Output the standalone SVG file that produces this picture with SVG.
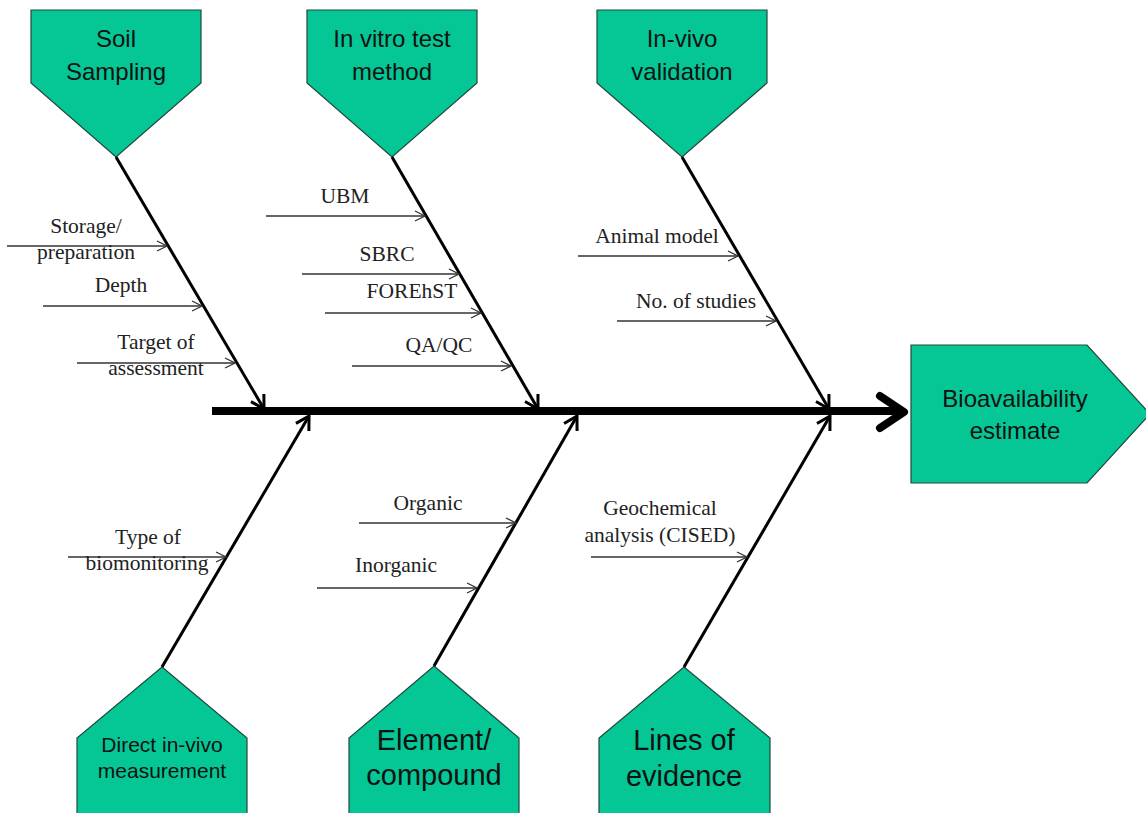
<svg xmlns="http://www.w3.org/2000/svg" width="1146" height="813" viewBox="0 0 1146 813">
<defs>
<style>
.node{fill:#04C795;stroke:#23483d;stroke-width:1.2}
.nt{font-family:"Liberation Sans",Arial,sans-serif;fill:#111;text-anchor:middle}
.lb{font-family:"Liberation Serif","Times New Roman",serif;font-size:21.5px;fill:#222;text-anchor:middle}
.bone{stroke:#000;stroke-width:3;fill:none;marker-end:url(#bh)}
.sub{stroke:#333;stroke-width:1.4;fill:none;marker-end:url(#sh)}
</style>
<marker id="bh" viewBox="-16 -10 18 20" refX="0" refY="0" markerWidth="18" markerHeight="20" markerUnits="userSpaceOnUse" orient="auto">
<path d="M-13,-7.5 L0,0 L-13,7.5" fill="none" stroke="#000" stroke-width="3"/>
</marker>
<marker id="sh" viewBox="-12 -7 14 14" refX="0" refY="0" markerWidth="14" markerHeight="14" markerUnits="userSpaceOnUse" orient="auto">
<path d="M-10,-5 L0,0 L-10,5" fill="none" stroke="#333" stroke-width="1.3"/>
</marker>
</defs>
<rect width="1146" height="813" fill="#fff"/>

<g id="n-soil">
<polygon class="node" points="31,10 201,10 201,83 116,157 31,83"/>
<text class="nt" font-size="24" x="116" y="47">Soil</text>
<text class="nt" font-size="24" x="116" y="80">Sampling</text>
</g>
<g id="n-invitro">
<polygon class="node" points="307,10 477,10 477,83 392,157 307,83"/>
<text class="nt" font-size="24" x="392" y="47">In vitro test</text>
<text class="nt" font-size="24" x="392" y="80">method</text>
</g>
<g id="n-invivo">
<polygon class="node" points="597,10 767,10 767,83 682,157 597,83"/>
<text class="nt" font-size="24" x="682" y="47">In-vivo</text>
<text class="nt" font-size="24" x="682" y="80">validation</text>
</g>
<g id="n-bio">
<polygon class="node" points="911,345 1087,345 1150,414 1087,483 911,483"/>
<text class="nt" font-size="24" x="1015" y="407">Bioavailability</text>
<text class="nt" font-size="24" x="1015" y="439">estimate</text>
</g>
<g id="n-direct">
<polygon class="node" points="162,667 247,738 247,820 77,820 77,738"/>
<text class="nt" font-size="21" x="162" y="752">Direct in-vivo</text>
<text class="nt" font-size="21" x="162" y="778">measurement</text>
</g>
<g id="n-element">
<polygon class="node" points="434,666 519,738 519,820 349,820 349,738"/>
<text class="nt" font-size="29" x="434" y="750">Element/</text>
<text class="nt" font-size="29" x="434" y="785">compound</text>
</g>
<g id="n-lines">
<polygon class="node" points="684,667 770,738 770,820 599,820 599,738"/>
<text class="nt" font-size="29" x="684" y="750">Lines of</text>
<text class="nt" font-size="29" x="684" y="786">evidence</text>
</g>

<g id="connectors">
<line x1="212" y1="411" x2="900" y2="411" stroke="#000" stroke-width="8"/>
<polyline points="880,396 904,412 880,428" fill="none" stroke="#000" stroke-width="8" stroke-linecap="round" stroke-linejoin="round"/>

<line class="bone" x1="116" y1="157" x2="264" y2="409"/>
<line class="bone" x1="392" y1="157" x2="538" y2="409"/>
<line class="bone" x1="682" y1="157" x2="829" y2="409"/>
<line class="bone" x1="162" y1="667" x2="309" y2="416"/>
<line class="bone" x1="434" y1="666" x2="577" y2="416"/>
<line class="bone" x1="684" y1="667" x2="830" y2="416"/>

<line class="sub" x1="7" y1="246" x2="167" y2="246"/>
<line class="sub" x1="43" y1="306" x2="202" y2="306"/>
<line class="sub" x1="77" y1="363" x2="235" y2="363"/>
<line class="sub" x1="266" y1="216" x2="425" y2="216"/>
<line class="sub" x1="302" y1="274" x2="459" y2="274"/>
<line class="sub" x1="325" y1="313" x2="481" y2="313"/>
<line class="sub" x1="352" y1="366" x2="511" y2="366"/>
<line class="sub" x1="578" y1="256" x2="738" y2="256"/>
<line class="sub" x1="617" y1="321" x2="776" y2="321"/>
<line class="sub" x1="68" y1="557" x2="226" y2="557"/>
<line class="sub" x1="359" y1="523" x2="516" y2="523"/>
<line class="sub" x1="317" y1="588" x2="477" y2="588"/>
<line class="sub" x1="591" y1="557" x2="747" y2="557"/>
</g>

<g id="labels">
<text class="lb" x="86" y="233">Storage/</text>
<text class="lb" x="86" y="259">preparation</text>
<text class="lb" x="121" y="292">Depth</text>
<text class="lb" x="156" y="349">Target of</text>
<text class="lb" x="156" y="375">assessment</text>
<text class="lb" x="345" y="203">UBM</text>
<text class="lb" x="387" y="261">SBRC</text>
<text class="lb" x="412" y="298">FOREhST</text>
<text class="lb" x="439" y="352">QA/QC</text>
<text class="lb" x="657" y="243">Animal model</text>
<text class="lb" x="696" y="308">No. of studies</text>
<text class="lb" x="148" y="544">Type of</text>
<text class="lb" x="147" y="570">biomonitoring</text>
<text class="lb" x="428" y="510">Organic</text>
<text class="lb" x="396" y="572">Inorganic</text>
<text class="lb" x="660" y="515">Geochemical</text>
<text class="lb" x="660" y="542">analysis (CISED)</text>
</g>
</svg>
